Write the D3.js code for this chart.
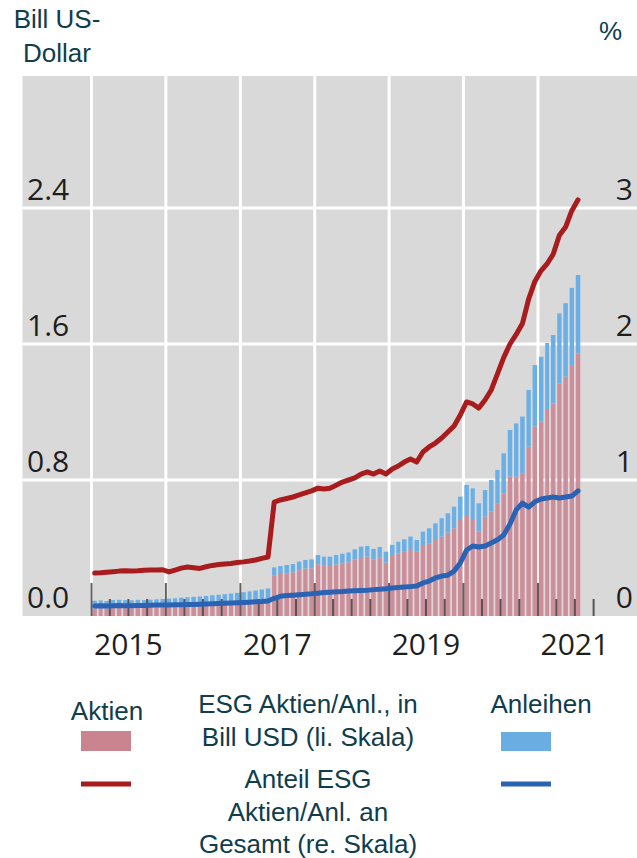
<!DOCTYPE html>
<html>
<head>
<meta charset="utf-8">
<script src="https://cdn.jsdelivr.net/npm/d3@7/dist/d3.min.js"></script>
<style>
  body { margin: 0; background: #fff; }
  text { font-family: "Liberation Sans", Arial, sans-serif; }
</style>
</head>
<body>
<script>
// tick labels
const yearLabels = [2015, 2017, 2019, 2021];
const leftTicks = [0, 0.8, 1.6, 2.4];
const rightTicks = [0, 1, 2, 3];

// monthly values, Jan 2015 .. Jul 2021 (Bill USD, left scale)
const aktien = [
  0.045, 0.046, 0.044, 0.047, 0.048, 0.047, 0.046, 0.048, 0.047, 0.048, 0.049, 0.050,
  0.052, 0.053, 0.056, 0.057, 0.059, 0.060, 0.062, 0.065, 0.067, 0.069, 0.072, 0.075,
  0.078, 0.082, 0.086, 0.091, 0.096, 0.240, 0.247, 0.252, 0.257, 0.270, 0.279, 0.281,
  0.305, 0.295, 0.294, 0.303, 0.310, 0.316, 0.332, 0.347, 0.350, 0.333, 0.343, 0.314,
  0.359, 0.369, 0.378, 0.388, 0.378, 0.418, 0.428, 0.447, 0.467, 0.490, 0.516, 0.565,
  0.594, 0.565, 0.496, 0.584, 0.614, 0.663, 0.722, 0.820, 0.820, 0.840, 0.996, 1.114,
  1.143, 1.212, 1.251, 1.369, 1.408, 1.476, 1.545
];
const anleihen = [
  0.045, 0.046, 0.044, 0.047, 0.047, 0.046, 0.046, 0.047, 0.046, 0.048, 0.049, 0.050,
  0.050, 0.051, 0.052, 0.053, 0.054, 0.055, 0.056, 0.057, 0.058, 0.059, 0.060, 0.061,
  0.062, 0.063, 0.064, 0.065, 0.066, 0.046, 0.047, 0.048, 0.049, 0.050, 0.051, 0.052,
  0.054, 0.054, 0.055, 0.056, 0.057, 0.058, 0.060, 0.061, 0.062, 0.062, 0.063, 0.064,
  0.059, 0.068, 0.073, 0.079, 0.069, 0.078, 0.088, 0.098, 0.108, 0.114, 0.127, 0.137,
  0.177, 0.186, 0.167, 0.157, 0.186, 0.196, 0.235, 0.274, 0.313, 0.333, 0.333, 0.362,
  0.382, 0.394, 0.402, 0.411, 0.432, 0.454, 0.461
];

// share of total in % (right scale)
const anteilAktien = [
  0.316, 0.318, 0.322, 0.326, 0.330, 0.332, 0.331, 0.333, 0.336, 0.338, 0.338, 0.340,
  0.324, 0.338, 0.352, 0.360, 0.355, 0.350, 0.362, 0.372, 0.378, 0.382, 0.386, 0.393,
  0.398, 0.404, 0.412, 0.424, 0.434, 0.838, 0.853, 0.864, 0.875, 0.890, 0.905, 0.920,
  0.940, 0.934, 0.940, 0.962, 0.985, 1.000, 1.015, 1.044, 1.059, 1.044, 1.066, 1.044,
  1.081, 1.103, 1.132, 1.154, 1.132, 1.206, 1.243, 1.272, 1.309, 1.353, 1.397, 1.478,
  1.574, 1.559, 1.529, 1.588, 1.662, 1.780, 1.900, 2.000, 2.070, 2.150, 2.330, 2.460,
  2.540, 2.590, 2.660, 2.800, 2.860, 2.980, 3.060
];
const anteilAnleihen = [
  0.074, 0.075, 0.074, 0.076, 0.077, 0.076, 0.076, 0.077, 0.078, 0.079, 0.080, 0.080,
  0.081, 0.082, 0.083, 0.084, 0.085, 0.086, 0.088, 0.090, 0.092, 0.094, 0.096, 0.098,
  0.100, 0.102, 0.104, 0.106, 0.110, 0.130, 0.145, 0.150, 0.153, 0.156, 0.160, 0.163,
  0.168, 0.172, 0.175, 0.178, 0.180, 0.184, 0.186, 0.188, 0.190, 0.194, 0.197, 0.200,
  0.206, 0.210, 0.213, 0.216, 0.220, 0.243, 0.257, 0.280, 0.294, 0.300, 0.330, 0.390,
  0.485, 0.515, 0.507, 0.515, 0.537, 0.560, 0.596, 0.676, 0.780, 0.830, 0.800, 0.840,
  0.860, 0.868, 0.875, 0.868, 0.875, 0.882, 0.920
];

const months = d3.timeMonths(new Date(2015, 0, 1), new Date(2021, 7, 1));

const width = 637, height = 858;
const plot = { left: 22.5, right: 637, top: 76, bottom: 616 };
const titleColor = "#0f3d4c", tickColor = "#1e1e1e";

const svg = d3.select("body").append("svg").attr("width", width).attr("height", height);

const x = d3.scaleTime().domain([new Date(2015, 0, 1), new Date(2021, 0, 1)]).range([91.5, 538]);
const yL = d3.scaleLinear().domain([0, 2.4]).range([plot.bottom, 208]);
const yR = d3.scaleLinear().domain([0, 3]).range([plot.bottom, 208]);

// background
svg.append("rect").attr("x", plot.left).attr("y", plot.top)
  .attr("width", plot.right - plot.left).attr("height", plot.bottom - plot.top)
  .attr("fill", "#d9d9d9");

// grid
svg.append("g").selectAll("line").data(d3.timeYears(new Date(2015, 0, 1), new Date(2021, 1, 1))).enter()
  .append("line")
  .attr("x1", d => x(d)).attr("x2", d => x(d))
  .attr("y1", plot.top).attr("y2", plot.bottom)
  .attr("stroke", "#fff").attr("stroke-width", 3);
svg.append("g").selectAll("line").data(leftTicks.slice(1)).enter()
  .append("line")
  .attr("x1", plot.left).attr("x2", plot.right)
  .attr("y1", d => yL(d)).attr("y2", d => yL(d))
  .attr("stroke", "#fff").attr("stroke-width", 3);

// bars
const monthX = (i) => [x(months[i]), x(d3.timeMonth.offset(months[i], 1))];
const bars = svg.append("g").selectAll("g").data(months).enter().append("g");
bars.append("rect")
  .attr("x", (d, i) => monthX(i)[0] + 0.9)
  .attr("width", (d, i) => monthX(i)[1] - monthX(i)[0] - 1.8)
  .attr("y", (d, i) => yL(aktien[i]))
  .attr("height", (d, i) => yL(0) - yL(aktien[i]))
  .attr("fill", "#cd8e9a");
bars.append("rect")
  .attr("x", (d, i) => monthX(i)[0] + 0.9)
  .attr("width", (d, i) => monthX(i)[1] - monthX(i)[0] - 1.8)
  .attr("y", (d, i) => yL(aktien[i] + anleihen[i]))
  .attr("height", (d, i) => yL(aktien[i]) - yL(aktien[i] + anleihen[i]))
  .attr("fill", "#6aafe5");

// dark quarter ticks along the base
const quarters = d3.timeMonths(new Date(2015, 0, 1), new Date(2021, 10, 1), 3);
svg.append("g").selectAll("line").data(quarters).enter()
  .append("line")
  .attr("x1", d => x(d)).attr("x2", d => x(d))
  .attr("y1", d => d.getMonth() === 0 ? plot.bottom - 33 : plot.bottom - 17)
  .attr("y2", plot.bottom)
  .attr("stroke", "#2a2a2a").attr("stroke-width", 2).attr("opacity", 0.75);

// lines
const mid = (i) => (monthX(i)[0] + monthX(i)[1]) / 2;
const line = d3.line().x((d, i) => mid(i)).y(d => yR(d));
svg.append("path").datum(anteilAktien).attr("d", line)
  .attr("fill", "none").attr("stroke", "#a81c1e").attr("stroke-width", 5)
  .attr("stroke-linejoin", "round").attr("stroke-linecap", "round");
svg.append("path").datum(anteilAnleihen).attr("d", line)
  .attr("fill", "none").attr("stroke", "#2b63b4").attr("stroke-width", 5)
  .attr("stroke-linejoin", "round").attr("stroke-linecap", "round");

// axis labels
svg.append("g").selectAll("text").data(leftTicks).enter()
  .append("text")
  .attr("x", 27).attr("y", d => yL(d) - 8)
  .style("font-family", "'Open Sans', sans-serif").style("font-size", "30px")
  .attr("fill", tickColor)
  .text(d => d3.format(".1f")(d));
svg.append("g").selectAll("text").data(rightTicks).enter()
  .append("text")
  .attr("x", 633).attr("y", d => yR(d) - 8).attr("text-anchor", "end")
  .style("font-family", "'Open Sans', sans-serif").style("font-size", "30px")
  .attr("fill", tickColor)
  .text(d => d);
svg.append("g").selectAll("text").data(yearLabels).enter()
  .append("text")
  .attr("x", d => x(new Date(d, 6, 1))).attr("y", 655).attr("text-anchor", "middle")
  .style("font-family", "'Open Sans', sans-serif").style("font-size", "30px")
  .attr("fill", tickColor)
  .text(d => d);

// units
const t = (txt, px, py, anchor) => svg.append("text")
  .attr("x", px).attr("y", py).attr("text-anchor", anchor || "middle")
  .style("font-size", "26px").attr("fill", titleColor).text(txt);
t("Bill US-", 57, 28);
t("Dollar", 57, 62);
t("%", 622, 40, "end");

// legend
t("Aktien", 107, 720);
t("Anleihen", 541, 713);
t("ESG Aktien/Anl., in", 308, 713);
t("Bill USD (li. Skala)", 308, 746);
t("Anteil ESG", 308, 788);
t("Aktien/Anl. an", 308, 821);
t("Gesamt (re. Skala)", 308, 853);
svg.append("rect").attr("x", 81).attr("y", 731).attr("width", 50).attr("height", 20).attr("fill", "#c9848f");
svg.append("rect").attr("x", 501).attr("y", 732).attr("width", 50).attr("height", 19).attr("fill", "#69ade2");
svg.append("line").attr("x1", 81).attr("x2", 131).attr("y1", 784).attr("y2", 784)
  .attr("stroke", "#a81c1e").attr("stroke-width", 5);
svg.append("line").attr("x1", 501).attr("x2", 551).attr("y1", 784).attr("y2", 784)
  .attr("stroke", "#2b63b4").attr("stroke-width", 5);
</script>
</body>
</html>
